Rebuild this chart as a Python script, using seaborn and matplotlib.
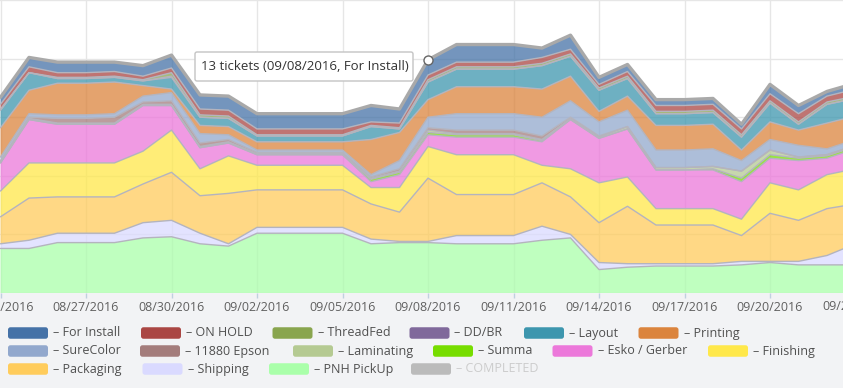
import numpy as np
import pandas as pd
import matplotlib
matplotlib.use("Agg")
import matplotlib.pyplot as plt
import matplotlib.dates as mdates
from matplotlib.patches import FancyBboxPatch
from matplotlib.transforms import IdentityTransform, blended_transform_factory
import seaborn as sns

# ---------------- data ----------------
dates = pd.date_range("2016-08-24", "2016-09-23", freq="D")

pnh_pickup = [38, 38, 43, 43, 43, 47, 48, 42, 40, 51, 51, 51, 51, 42, 43, 43, 42, 42, 42, 45,
              47, 20, 22, 23, 23, 23, 24, 26, 24, 24, 24]
shipping = [4, 7, 8, 8, 8, 13, 14, 9, 2, 5, 5, 5, 5, 4, 1, 1, 7, 7, 7, 12,
            3, 6, 3, 2, 2, 2, 3, 1, 3, 8, 18]
packaging = [23, 36, 31, 31, 31, 33, 41, 32, 43, 32, 32, 32, 32, 30, 25, 54, 35, 35, 35, 37,
             32, 34, 49, 33, 33, 33, 22, 41, 35, 40, 34]
finishing = [22, 30, 29, 29, 29, 28, 36, 23, 32, 21, 21, 21, 21, 14, 21, 27, 34, 34, 34, 15,
             24, 34, 25, 14, 14, 14, 14, 26, 26, 29, 30]
esko_gerber = [24, 37, 33, 33, 33, 39, 21, 18, 11, 9, 9, 9, 9, 5, 11, 10, 15, 15, 15, 20,
               42, 38, 41, 33, 33, 33, 32, 21, 25, 14, 17]
summa = [0, 0, 0, 0, 0, 0, 0, 0, 0, 0, 0, 0, 0, 2, 2, 2, 2, 2, 2, 1,
         0, 0, 0, 0, 0, 1, 3, 3, 2, 2, 2]
laminating = [1, 1, 1, 1, 1, 1, 1, 1, 1, 1, 1, 1, 1, 1, 1, 2, 1, 1, 1, 1,
              1, 1, 2, 2, 2, 2, 6, 4, 1, 1, 1]
epson_11880 = [1, 1, 4, 4, 5, 2, 3, 3, 2, 1, 1, 1, 1, 1, 2, 2, 3, 3, 3, 3,
               1, 1, 0, 0, 0, 0, 0, 0, 0, 0, 0]
surecolor = [3, 3, 3, 3, 3, 5, 7, 8, 4, 2, 2, 2, 2, 2, 7, 9, 14, 14, 14, 16,
             14, 12, 14, 15, 15, 15, 9, 9, 10, 5, 5]
printing = [25, 20, 27, 27, 27, 9, 3, 7, 7, 7, 7, 7, 7, 30, 24, 15, 23, 23, 23, 24,
            21, 9, 12, 21, 21, 21, 9, 15, 13, 22, 20]
layout = [15, 15, 4, 4, 4, 4, 10, 7, 7, 5, 5, 5, 5, 11, 3, 15, 15, 15, 15, 20,
          17, 18, 15, 10, 10, 10, 11, 16, 5, 16, 15]
dd_br = [0, 0, 0, 0, 0, 0, 1, 0, 0, 0, 0, 0, 0, 0, 0, 0, 0, 0, 0, 0,
         0, 0, 0, 0, 0, 0, 0, 0, 0, 0, 0]
threadfed = [1, 0, 1, 1, 1, 1, 3, 2, 2, 1, 1, 1, 1, 1, 1, 2, 2, 2, 2, 2,
             2, 2, 2, 2, 2, 2, 2, 2, 2, 2, 2]
on_hold = [4, 5, 4, 4, 4, 3, 4, 5, 5, 5, 5, 5, 5, 3, 4, 4, 4, 4, 4, 5,
           4, 3, 4, 5, 5, 5, 5, 6, 7, 5, 6]
for_install = [6, 8, 9, 9, 8, 9, 11, 12, 12, 13, 13, 13, 13, 14, 12, 13, 15, 15, 15, 8,
               12, 6, 6, 5, 5, 5, 4, 8, 7, 4, 5]

# stacking order, bottom -> top
stack = [
    ("PNH PickUp", pnh_pickup, "#AAFFAA"),
    ("Shipping", shipping, "#DADAFF"),
    ("Packaging", packaging, "#FFCC5C"),
    ("Finishing", finishing, "#FFE84A"),
    ("Esko / Gerber", esko_gerber, "#EC78DA"),
    ("Summa", summa, "#77DD00"),
    ("Laminating", laminating, "#B5CA92"),
    ("11880 Epson", epson_11880, "#A47D7C"),
    ("SureColor", surecolor, "#92A8CD"),
    ("Printing", printing, "#DB843D"),
    ("Layout", layout, "#3D96AE"),
    ("DD/BR", dd_br, "#80699B"),
    ("ThreadFed", threadfed, "#89A54E"),
    ("ON HOLD", on_hold, "#AA4643"),
    ("For Install", for_install, "#4572A7"),
]
colors = {n: c for n, _, c in stack}
colors["COMPLETED"] = "#BBBBBB"

legend_rows = [
    ["For Install", "ON HOLD", "ThreadFed", "DD/BR", "Layout", "Printing"],
    ["SureColor", "11880 Epson", "Laminating", "Summa", "Esko / Gerber", "Finishing"],
    ["Packaging", "Shipping", "PNH PickUp", "COMPLETED"],
]
hidden = {"COMPLETED"}

tooltip_series = "For Install"
tooltip_date = pd.Timestamp("2016-09-08")

# ---------------- style / layout ----------------
sns.set_theme(style="white")
plt.rcParams["font.family"] = ["Open Sans", "DejaVu Sans"]

W, H = 843, 388
PX_PER_DAY = 28.5
PLOT_BOTTOM = 293
BG = "#F2F3F5"

fig = plt.figure(figsize=(W / 100, H / 100), dpi=100, facecolor=BG)
ax = fig.add_axes([0, (H - PLOT_BOTTOM) / H, 1, PLOT_BOTTOM / H])
ax.set_facecolor("white")

cum = np.zeros(len(dates))
tops = []
for name, vals, col in stack:
    top = cum + np.asarray(vals, float)
    ax.fill_between(dates, cum, top, color=col, alpha=0.75, lw=0, zorder=2)
    tops.append(top)
    cum = top

frame = pd.DataFrame({"date": dates})
for i, top in enumerate(tops):
    frame["top"] = top
    last = i == len(tops) - 1
    sns.lineplot(data=frame, x="date", y="top", ax=ax,
                 color="#A9A9A9" if last else "#B4B4BE",
                 lw=2.4 if last else 1.0, zorder=4 if last else 3, legend=False)

d0 = mdates.date2num(dates[0])
ax.set_xlim(d0 - 0.5 / PX_PER_DAY, d0 + (W - 0.5) / PX_PER_DAY)
ax.set_ylim(0, 250)
ax.set_yticks(np.arange(0, 251, 50))
tick_dates = dates[:-1:3]
ax.set_xticks(tick_dates)
ax.xaxis.set_major_formatter(mdates.DateFormatter("%m/%d/%Y"))
ax.grid(True, color="#E6E6E6", lw=1)
ax.set_axisbelow(True)
for s in ax.spines.values():
    s.set_visible(False)
ax.tick_params(axis="y", length=0, labelleft=False)
ax.tick_params(axis="x", length=3.6, width=1, color="#C0D0E0", direction="out",
               labelsize=9, labelcolor="#606060", pad=2.5, bottom=True)
ax.set_xlabel("")
ax.set_ylabel("")

# next tick label beyond the right edge (only partially visible)
btr = blended_transform_factory(ax.transData, fig.transFigure)
fig.text(mdates.date2num(dates[-1]), 1 - 306.5 / H, dates[-1].strftime("%m/%d/%Y"),
         transform=btr, ha="center", va="center", fontsize=9, color="#606060")

# hover marker
idx = list(dates).index(tooltip_date)
ax.plot([dates[idx]], [tops[-1][idx]], marker="o", ms=6.5, mfc="white",
        mec="#666666", mew=1, zorder=6, clip_on=False)

# tooltip
val = dict((n, v) for n, v, _ in stack)[tooltip_series][idx]
tip = FancyBboxPatch((195, H - 81), 218, 29, boxstyle="round,pad=0,rounding_size=2",
                     transform=IdentityTransform(), facecolor="white",
                     edgecolor="#C4C4C4", lw=1, zorder=10)
fig.patches.append(tip)
fig.text(201 / W, 1 - 66.5 / H,
         f"{val} tickets ({tooltip_date.strftime('%m/%d/%Y')}, {tooltip_series})",
         fontsize=9.5, color="#333333", va="center", ha="left", zorder=11)

# legend
row_y = [333, 351, 369]
row_x = [[8, 141, 272.5, 409.5, 524, 638.5],
         [8, 140, 293, 433, 552.5, 708],
         [8, 142.5, 269, 411]]
for r, names in enumerate(legend_rows):
    for c, name in enumerate(names):
        sx = row_x[r][c]
        cy = row_y[r]
        sw = FancyBboxPatch((sx, H - cy - 5.75), 40, 11.5,
                            boxstyle="round,pad=0,rounding_size=2.5",
                            transform=IdentityTransform(), facecolor=colors[name],
                            edgecolor="none")
        fig.patches.append(sw)
        fig.text((sx + 45) / W, 1 - cy / H, "\u2013 " + name, fontsize=9,
                 color="#CCCCCC" if name in hidden else "#505050",
                 va="center", ha="left")

fig.savefig("out.png", dpi=100, facecolor=BG)
